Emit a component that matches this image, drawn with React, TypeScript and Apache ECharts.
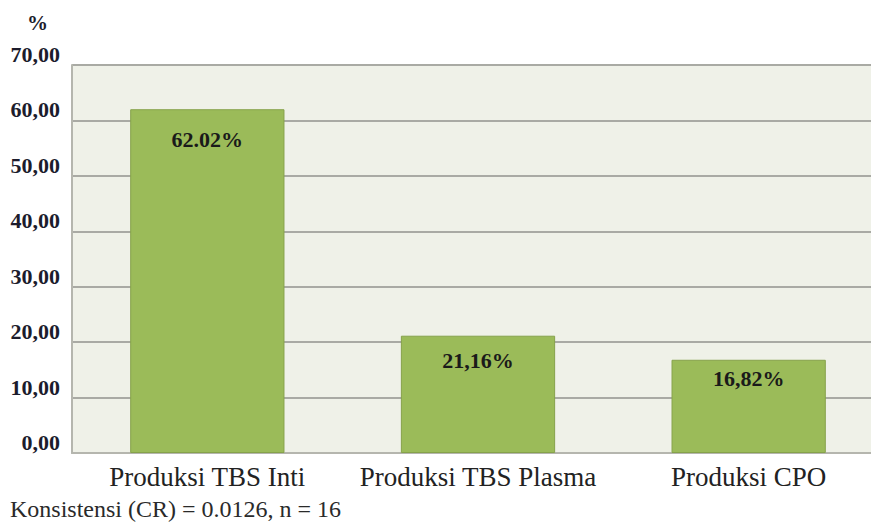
import React, { useEffect, useRef } from "react";
import * as echarts from "echarts";

const categories = ["Produksi TBS Inti", "Produksi TBS Plasma", "Produksi CPO"];
const values = [62.02, 21.16, 16.82];
const valueLabels = ["62.02%", "21,16%", "16,82%"];
const yTicks = [0, 10, 20, 30, 40, 50, 60, 70];
const unitLabel = "%";
const footer = "Konsistensi (CR) = 0.0126, n = 16";

const labelDistances = [19, 14, 8];
const SERIF = "Liberation Serif";

export default function App() {
  const ref = useRef<HTMLDivElement>(null);
  useEffect(() => {
    if (!ref.current) return;
    const chart = echarts.init(ref.current, undefined, { renderer: "svg" });
    chart.setOption({
      animation: false,
      backgroundColor: "#ffffff",
      grid: {
        left: 72,
        top: 65,
        bottom: 76,
        width: 812,
        outerBoundsMode: "none",
        containLabel: false,
        show: true,
        backgroundColor: "#eff1e8",
        borderWidth: 0,
      },
      graphic: [
        {
          type: "text",
          left: 27,
          top: 12,
          style: { text: unitLabel, fontFamily: SERIF, fontWeight: "bold", fontSize: 21, fill: "#1c1c2c" },
        },
        {
          type: "text",
          left: 10,
          top: 497,
          style: { text: footer, fontFamily: SERIF, fontSize: 24, fill: "#2a2a2a" },
        },
      ],
      xAxis: {
        type: "category",
        data: categories,
        axisTick: { show: false },
        axisLine: { show: true, lineStyle: { color: "#b5b6ae", width: 2 } },
        axisLabel: {
          interval: 0,
          hideOverlap: false,
          fontFamily: SERIF,
          fontSize: 27,
          color: "#222222",
          margin: 10,
        },
      },
      yAxis: {
        type: "value",
        min: yTicks[0],
        max: yTicks[yTicks.length - 1],
        interval: 10,
        axisLine: { show: true, lineStyle: { color: "#b5b6ae", width: 2 } },
        axisTick: { show: false },
        splitLine: { show: true, lineStyle: { color: "#a9aaa4", width: 2 } },
        axisLabel: {
          formatter: (v: number) => v.toFixed(2).replace(".", ","),
          fontFamily: SERIF,
          fontWeight: "bold",
          fontSize: 22,
          color: "#1c1c2c",
          margin: 12,
          verticalAlign: "bottom",
          lineHeight: 21,
        },
      },
      series: [
        {
          type: "bar",
          barWidth: "57%",
          data: values.map((v, i) => ({
            value: v,
            label: { distance: labelDistances[i] },
          })),
          itemStyle: { color: "#9bbb59", borderColor: "#86a24b", borderWidth: 1 },
          label: {
            show: true,
            position: "insideTop",
            formatter: (p: any) => valueLabels[p.dataIndex],
            fontFamily: SERIF,
            fontWeight: "bold",
            fontSize: 22,
            color: "#1a1a1a",
          },
        },
      ],
    });
    return () => chart.dispose();
  }, []);
  return (
    <div
      ref={ref}
      style={{ position: "fixed", left: 0, top: 0, width: 871, height: 529 }}
    />
  );
}
